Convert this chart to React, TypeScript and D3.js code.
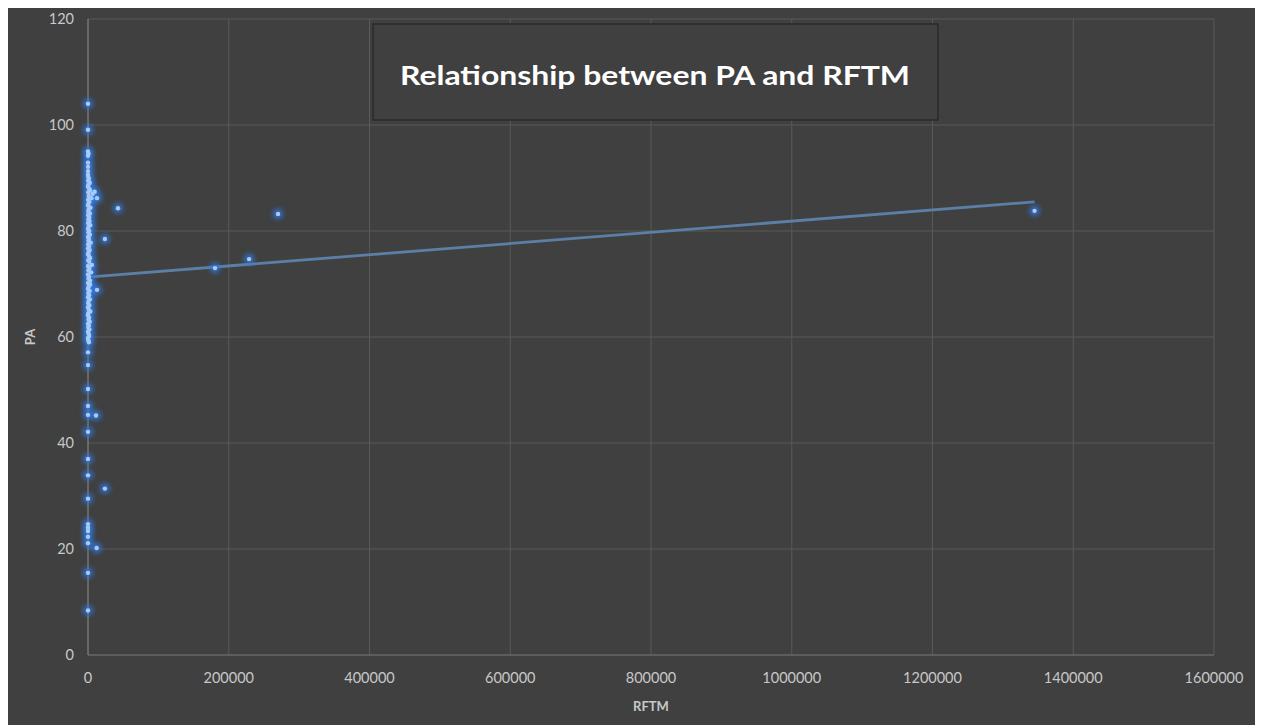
import React from "react";
import * as d3 from "d3";

const xTicks = [0, 200000, 400000, 600000, 800000, 1000000, 1200000, 1400000, 1600000];
const yTicks = [0, 20, 40, 60, 80, 100, 120];

// main column of points near RFTM ≈ 0
const columnX = [
  0, 0, 0, 800, 0, 0, 0, 0,
  0, 500, 1200, 300, 2500, 800, 0, 1500, 3000, 400, 6500, 1000, 5000, 200, 2000, 700,
  0, 3500, 1100, 400, 2800, 0, 1600, 600, 2200, 100, 3200, 900, 0, 1800, 500, 2600,
  0, 1300, 700, 3800, 200, 1500, 0, 2400, 800, 0, 1200, 3000, 300, 1700, 5500, 0,
  2100, 600, 4500, 0, 1400, 700, 2900, 0, 3000, 1000, 0, 2300, 500, 1600, 0, 2700,
  900, 200, 1900, 0, 1100, 3300, 400, 0, 1500, 700, 2500, 0, 1200, 300, 2000, 0,
  900, 1700, 0, 500, 1300,
  0, 0, 0, 0, 0, 0, 0, 0, 0, 0, 0, 0, 0, 0, 0, 0,
];
const columnY = [
  104.0, 99.1, 95.0, 94.6, 94.2, 92.9, 92.1, 91.3,
  90.6, 90.2, 89.8, 89.5, 89.1, 88.8, 88.4, 88.0, 87.7, 87.3, 87.0, 86.6, 86.2, 85.9, 85.5, 85.2,
  84.8, 84.4, 84.1, 83.7, 83.3, 83.0, 82.6, 82.2, 81.9, 81.5, 81.1, 80.8, 80.4, 80.0, 79.7, 79.3,
  78.9, 78.6, 78.2, 77.8, 77.5, 77.1, 76.7, 76.4, 76.0, 75.6, 75.3, 74.9, 74.5, 74.2, 73.6, 73.4,
  73.0, 72.6, 72.2, 71.8, 71.4, 71.0, 70.6, 70.2, 69.9, 69.5, 69.1, 68.7, 68.3, 67.9, 67.5, 67.1,
  66.8, 66.4, 66.0, 65.6, 65.2, 64.8, 64.5, 64.1, 63.7, 63.3, 62.9, 62.5, 62.2, 61.8, 61.4, 61.0,
  60.6, 60.2, 59.8, 59.4, 59.0,
  57.1, 54.7, 50.2, 47.0, 45.3, 42.1, 37.0, 33.9, 29.5, 24.7, 24.0, 23.4, 22.3, 21.1, 15.5, 8.4,
];

// scattered points away from the column
const outlierX = [12800, 9500, 42600, 24000, 12800, 11400, 24000, 12300, 180500, 228900, 270000, 1345000];
const outlierY = [86.2, 87.4, 84.3, 78.5, 68.9, 45.2, 31.4, 20.2, 73.0, 74.7, 83.2, 83.8];

// linear trendline endpoints
const trendX = [0, 1345000];
const trendY = [71.3, 85.5];

const W = 1255;
const H = 717;

export default function App() {
  const x = d3.scaleLinear().domain([0, 1600000]).range([80, 1206]);
  const y = d3.scaleLinear().domain([0, 120]).range([647, 11]);

  const points = [
    ...columnX.map((v, i) => ({ x: v, y: columnY[i] })),
    ...outlierX.map((v, i) => ({ x: v, y: outlierY[i] })),
  ];
  const trend = trendX.map((v, i) => [v, trendY[i]] as [number, number]);
  const line = d3
    .line<[number, number]>()
    .x((d) => x(d[0]))
    .y((d) => y(d[1]));

  const font = "Lato, 'Open Sans', sans-serif";
  const labelColor = "#c8c8c8";

  return (
    <div>
      <style>{`body{overflow:hidden}`}</style>
      <svg width={W} height={H} style={{ display: "block" }}>
        <defs>
          <filter id="glow" x="-100%" y="-100%" width="300%" height="300%">
            <feGaussianBlur stdDeviation="2.5" />
          </filter>
        </defs>
        <rect x={0} y={0} width={W} height={H} fill="#404040" />

        {/* gridlines */}
        {yTicks.map((t) => (
          <line key={"gy" + t} x1={x(0)} x2={x(1600000)} y1={y(t)} y2={y(t)} stroke="#595959" strokeWidth={1} />
        ))}
        {xTicks.slice(1).map((t) => (
          <line key={"gx" + t} x1={x(t)} x2={x(t)} y1={y(0)} y2={y(120)} stroke="#595959" strokeWidth={1} />
        ))}
        {/* axis lines */}
        <line x1={x(0)} x2={x(1600000)} y1={y(0)} y2={y(0)} stroke="#6e6e6e" strokeWidth={1} />
        <line x1={x(0)} x2={x(0)} y1={y(0)} y2={y(120)} stroke="#8f8f8f" strokeWidth={1} />

        {/* tick labels */}
        {yTicks.map((t) => (
          <text key={"ly" + t} x={66} y={y(t)} dy="0.35em" textAnchor="end" fill={labelColor} fontFamily={font} fontSize={14.5}>
            {t}
          </text>
        ))}
        {xTicks.map((t) => (
          <text key={"lx" + t} x={x(t)} y={670} dy="0.35em" textAnchor="middle" fill={labelColor} fontFamily={font} fontSize={14.5}>
            {t}
          </text>
        ))}

        {/* axis titles */}
        <text
          transform={`translate(22, ${y(60)}) rotate(-90)`}
          textAnchor="middle"
          dy="0.35em"
          fill={labelColor}
          fontFamily={font}
          fontWeight="bold"
          fontSize={13}
        >
          PA
        </text>
        <text x={x(800000)} y={698} dy="0.35em" textAnchor="middle" fill={labelColor} fontFamily={font} fontWeight="bold" fontSize={13}>
          RFTM
        </text>

        {/* trendline */}
        <path d={line(trend) || ""} fill="none" stroke="#5b7fa6" strokeWidth={2.8} />

        {/* points: glow then core */}
        <g filter="url(#glow)">
          {points.map((p, i) => (
            <circle key={"g" + i} cx={x(p.x)} cy={y(p.y)} r={5} fill="#2f7ae5" opacity={0.85} />
          ))}
        </g>
        {points.map((p, i) => (
          <circle key={"c" + i} cx={x(p.x)} cy={y(p.y)} r={2.2} fill="#a8cbf5" />
        ))}

        {/* title box */}
        <rect x={365} y={16} width={565} height={96} fill="#404040" stroke="#2a2a2a" strokeWidth={1.5} />
        <text
          x={647}
          y={68}
          dy="0.35em"
          textAnchor="middle"
          fill="#ffffff"
          fontFamily={font}
          fontWeight="bold"
          fontSize={27}
          textLength={510}
          lengthAdjust="spacingAndGlyphs"
        >
          Relationship between PA and RFTM
        </text>

        {/* handle artifact at right edge */}
        <circle cx={W} cy={362} r={5} fill="#ffffff" />
      </svg>
    </div>
  );
}
